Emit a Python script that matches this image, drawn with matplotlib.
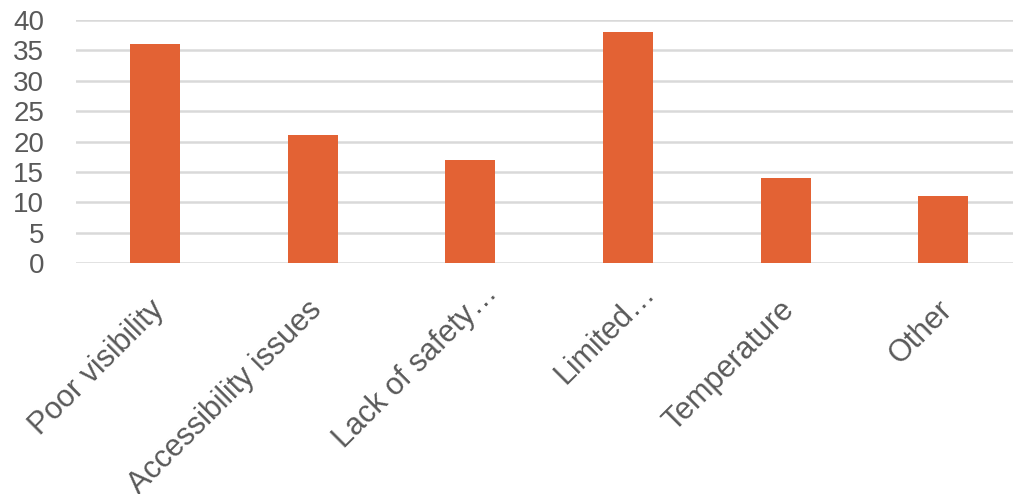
import matplotlib
matplotlib.use("Agg")
import matplotlib.pyplot as plt
import matplotlib.transforms as mtransforms

categories = ["Poor visibility", "Accessibility issues", "Lack of safety…",
              "Limited…", "Temperature", "Other"]
values = [36, 21, 17, 38, 14, 11]
y_ticks = [0, 5, 10, 15, 20, 25, 30, 35, 40]

plt.rcParams['font.family'] = ['Liberation Sans', 'DejaVu Sans']

fig = plt.figure(figsize=(10.13, 4.94), dpi=100)
ax = fig.add_axes([0.075, 0.4676, 0.934, 0.4919])

x = list(range(len(categories)))
ax.bar(x, values, width=0.317, color="#E36234", zorder=3)

ax.set_xlim(-0.5, len(categories) - 0.5)
ax.set_ylim(0, 40)
ax.set_yticks(y_ticks)
ax.set_yticklabels([str(v) for v in y_ticks])
ax.grid(axis="y", color="#d9d9d9", linewidth=1.8, zorder=0)
ax.set_axisbelow(True)
for s in ax.spines.values():
    s.set_visible(False)

ax.set_xticks(x)
ax.set_xticklabels(categories, rotation=45, ha="right", rotation_mode="anchor")
ax.tick_params(axis="x", length=0, pad=23, labelsize=22, labelcolor="#595959")
ax.tick_params(axis="y", length=0, pad=23, labelsize=20, labelcolor="#595959")

# nudge the slanted labels; truncated ones sit a bit further up-right
for lbl in ax.get_xticklabels():
    if lbl.get_text().endswith("…"):
        dx, dy = 12, 17
    else:
        dx, dy = -6, 0
    shift = mtransforms.ScaledTranslation(dx / 100, dy / 100, fig.dpi_scale_trans)
    lbl.set_transform(lbl.get_transform() + shift)

fig.savefig("out.png", dpi=100)
